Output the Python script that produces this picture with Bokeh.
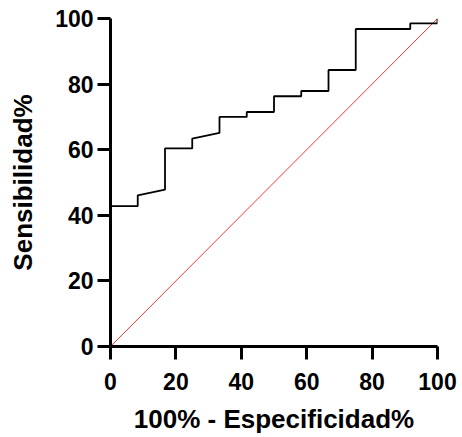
from bokeh.plotting import figure
from bokeh.models import Range1d, FixedTicker
from bokeh.embed import file_html
from bokeh.resources import INLINE

# Data
fpr = [0, 0, 8.33, 8.33, 16.67, 16.67, 25, 25, 33.33, 33.33, 41.67, 41.67,
       50, 50, 58.33, 58.33, 66.67, 66.67, 75, 75, 91.67, 91.67, 100, 100]
sens = [0, 42.8, 42.8, 46.1, 47.8, 60.4, 60.4, 63.4, 65.1, 70, 70, 71.5,
        71.5, 76.3, 76.3, 77.9, 77.9, 84.3, 84.3, 96.8, 96.8, 98.5, 98.5, 100]
ref_x = [0, 100]
ref_y = [0, 100]
ticks = [0, 20, 40, 60, 80, 100]
x_title = "100% - Especificidad%"
y_title = "Sensibilidad%"

p = figure(width=458, height=436, output_backend="svg", toolbar_location=None,
           x_range=Range1d(0, 100), y_range=Range1d(0, 100),
           min_border_left=110, min_border_right=21, min_border_top=18,
           min_border_bottom=90)
p.outline_line_color = None
p.xgrid.visible = False
p.ygrid.visible = False
p.background_fill_color = "white"
p.border_fill_color = "white"

p.line(ref_x, ref_y, line_color="#ff0000", line_width=0.8)
p.line(fpr, sens, line_color="black", line_width=1.8)

for ax in (p.xaxis[0], p.yaxis[0]):
    ax.ticker = FixedTicker(ticks=ticks)
    ax.axis_line_width = 3
    ax.axis_line_color = "black"
    ax.major_tick_line_width = 3
    ax.major_tick_line_color = "black"
    ax.major_tick_out = 13
    ax.major_tick_in = 0
    ax.minor_tick_line_color = None
    ax.major_label_text_font = "Liberation Sans"
    ax.major_label_text_font_style = "bold"
    ax.major_label_text_font_size = "23px"
    ax.major_label_text_color = "black"
    ax.axis_label_text_font = "Liberation Sans"
    ax.axis_label_text_font_style = "bold"
    ax.axis_label_text_font_size = "26px"
    ax.axis_label_text_color = "black"

p.xaxis.axis_label = x_title
p.yaxis.axis_label = y_title
p.xaxis.major_label_standoff = 13
p.yaxis.major_label_standoff = 4
p.xaxis.axis_label_standoff = 11
p.yaxis.axis_label_standoff = 14

open("out.html", "w").write(file_html(p, INLINE))
